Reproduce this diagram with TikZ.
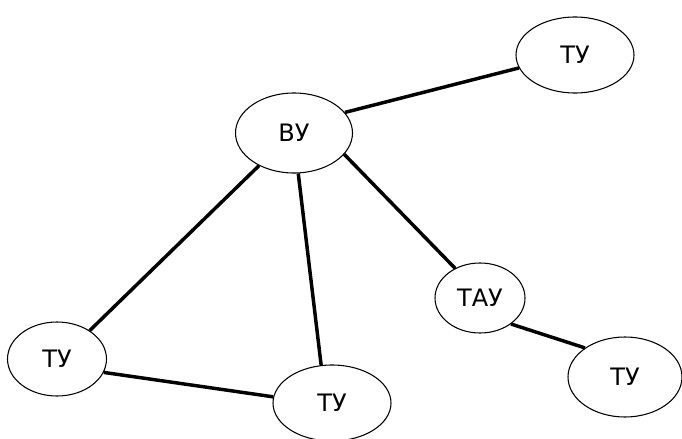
\documentclass[tikz,border=0pt]{standalone}
\usepackage{fontspec}
\setmainfont{DejaVu Sans}
\usetikzlibrary{shapes.geometric}
\begin{document}
\begin{tikzpicture}[x=0.75pt,y=-0.75pt,
  unit/.style={ellipse,draw,line width=0.8pt,inner sep=0pt,font=\fontsize{18}{20}\selectfont},
  link/.style={line width=2.6pt}]
\useasboundingbox (0,0) rectangle (682,439);
\node[unit,minimum width=87.75pt,minimum height=60pt] (vu) at (294,133) {ВУ};
\node[unit,minimum width=88.5pt,minimum height=57pt] (tut) at (575,55) {ТУ};
\node[unit,minimum width=67.5pt,minimum height=52.5pt] (tau) at (480,298) {ТАУ};
\node[unit,minimum width=74.25pt,minimum height=55.5pt] (tul) at (57,359) {ТУ};
\node[unit,minimum width=88.5pt,minimum height=57pt] (tum) at (332,403) {ТУ};
\node[unit,minimum width=85.5pt,minimum height=60pt] (tubr) at (625,377) {ТУ};
\draw[link] (vu.22) -- (tut.193);
\draw[link] (vu.-23) -- (tau.130);
\draw[link] (tau.-40) -- (tubr.144);
\draw[link] (vu.223) -- (tul.41);
\draw[link] (vu.-84) -- (tum.106);
\draw[link] (tul.-16) -- (tum.174);
\end{tikzpicture}
\end{document}
